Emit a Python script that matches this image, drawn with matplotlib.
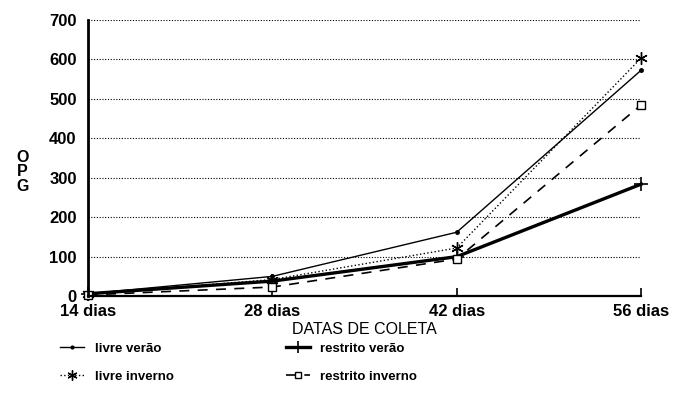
import matplotlib
matplotlib.use('Agg')
import matplotlib.pyplot as plt
from matplotlib.ticker import FixedLocator

plt.rcParams['font.family'] = ['Liberation Sans', 'DejaVu Sans']

dias = [14, 28, 42, 56]
dia_labels = ['14 dias', '28 dias', '42 dias', '56 dias']
livre_verao = [6, 50, 162, 573]
livre_inverno = [5, 42, 122, 604]
restrito_verao = [6, 38, 100, 284]
restrito_inverno = [3, 23, 94, 485]
y_ticks = [0, 100, 200, 300, 400, 500, 600, 700]

fig = plt.figure(figsize=(6.75, 4.09), dpi=100)
ax = fig.add_axes([0.130, 0.276, 0.820, 0.675])

asterisco = (6, 2, 0)
ax.plot(dias, livre_verao, color='black', lw=1.0, marker='o', ms=2.5,
        label='livre verão', clip_on=False)
ax.plot(dias, livre_inverno, color='black', lw=1.0, ls=':', marker=asterisco,
        ms=9, mew=1.0, label='livre inverno', clip_on=False)
ax.plot(dias, restrito_verao, color='black', lw=2.4, marker='+', ms=10,
        mew=1.2, label='restrito verão', clip_on=False)
ax.plot(dias, restrito_inverno, color='black', lw=1.2, ls=(0, (6, 5)),
        marker='s', ms=6, mfc='white', mew=1.0, label='restrito inverno',
        clip_on=False)

ax.set_xlim(14, 56)
ax.set_ylim(0, 700)
ax.yaxis.set_major_locator(FixedLocator(y_ticks))
ax.set_xticks(dias)
ax.set_xticklabels(dia_labels, fontsize=12, fontweight='bold')
ax.set_yticklabels([str(v) for v in y_ticks], fontsize=12, fontweight='bold')
ax.tick_params(axis='y', length=0, pad=8)
ax.tick_params(axis='x', direction='in', length=6, width=1.2, pad=6)
ax.grid(axis='y', color='black', ls=(0, (1, 1.5)), lw=0.8)
ax.set_axisbelow(True)
for side in ['top', 'right']:
    ax.spines[side].set_visible(False)
ax.spines['left'].set_linewidth(2.0)
ax.spines['bottom'].set_linewidth(1.6)

ax.set_xlabel('DATAS DE COLETA', fontsize=11.5, labelpad=2)
fig.text(0.033, 0.58, 'O\nP\nG', fontsize=11.5, fontweight='bold',
         ha='center', va='center', linespacing=0.95)

handles, labels = ax.get_legend_handles_labels()
fig.legend(handles, labels, ncol=2, loc='lower left',
           bbox_to_anchor=(0.072, 0.035), frameon=False,
           prop={'weight': 'bold', 'size': 9.5}, handlelength=1.8,
           columnspacing=8.5, handletextpad=0.8, labelspacing=1.2,
           markerscale=0.8)

fig.savefig('out.png', dpi=100)
